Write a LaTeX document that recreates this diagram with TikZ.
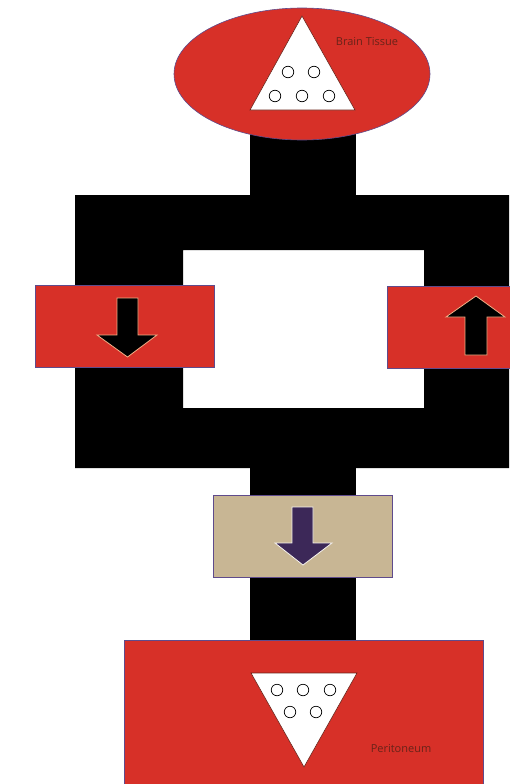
\documentclass[tikz,border=0pt]{standalone}
\usepackage{fontspec}
\setsansfont{Open Sans}
\usetikzlibrary{positioning, shapes.geometric}
\definecolor{tissuered}{RGB}{215,48,40}
\definecolor{edgeblue}{RGB}{95,75,140}
\definecolor{valvetan}{RGB}{200,182,148}
\definecolor{flowpurple}{RGB}{60,40,88}
\definecolor{glowpeach}{RGB}{245,175,135}
\definecolor{labelbrown}{RGB}{105,35,25}

\begin{document}
\begin{tikzpicture}[
		x=1pt, y=-1pt,
		organ/.style={draw=edgeblue, line width=0.6pt, fill=tissuered},
		valve/.style={draw=edgeblue, line width=0.6pt, fill=tissuered, minimum width=179pt, minimum height=82pt, inner sep=0pt},
		pump/.style={valve, fill=valvetan},
		pocket/.style={draw=labelbrown, line width=0.6pt, fill=white},
		pore/.style={circle, draw=black, line width=0.7pt, minimum size=11.5pt, inner sep=0pt},
		flow/.style={fill=black, draw=glowpeach, line width=0.8pt},
		tag/.style={font=\sffamily\fontsize{11}{13}\selectfont, text=labelbrown, inner sep=0pt}
	]
	\useasboundingbox (0,0) rectangle (509,784);
	\fill[white] (0,0) rectangle (509,784);
	% catheter tubing
	\fill[black] (250,130) rectangle (356,200);
	\fill[black, even odd rule] (75,195) rectangle (509,468) (183,250) rectangle (424,408);
	\fill[black] (250,465) rectangle (356,645);
	% brain
	\node[organ, ellipse, minimum width=256pt, minimum height=132pt] (brain) at (302,74) {};
	\draw[pocket] (302,16) coordinate (bt1) -- (250,110) coordinate (bt2) -- (355,110) coordinate (bt3) -- cycle;
	\foreach \px/\py [count=\i] in {288/72, 314/72, 275/96, 302/96, 329/96}
		\node[pore] (bp\i) at (\px,\py) {};
	\node[tag] (braintag) at (367,42) {Brain Tissue};
	% valves
	\node[valve] (lvalve) at (124.5,326) {};
	\node[valve, minimum width=130pt, anchor=west] (rvalve) at (387,327.5) {};
	\node[pump] (pvalve) at (303,536) {};
	\draw[flow] (117,298) -- (138,298) -- (138,335) -- (157,335) -- (127.5,357) -- (97,335) -- (117,335) -- cycle;
	\draw[flow] (465,355) -- (487,355) -- (487,317) -- (505,317) -- (476,296) -- (446,317) -- (465,317) -- cycle;
	\draw[flow, fill=flowpurple, draw=white!85!valvetan] (292,507) -- (313,507) -- (313,543) -- (332,543) -- (303,565) -- (275,543) -- (292,543) -- cycle;
	% peritoneum
	\node[organ, minimum width=359pt, minimum height=150pt, inner sep=0pt] (perit) at (303.5,715) {};
	\draw[pocket] (251,673) coordinate (pt1) -- (357,673) coordinate (pt2) -- (304,767) coordinate (pt3) -- cycle;
	\foreach \px/\py [count=\i] in {277/690, 303/690, 330/690, 290/712, 316/712}
		\node[pore] (pp\i) at (\px,\py) {};
	\node[tag] (peritag) at (401,749) {Peritoneum};
\end{tikzpicture}
\end{document}
